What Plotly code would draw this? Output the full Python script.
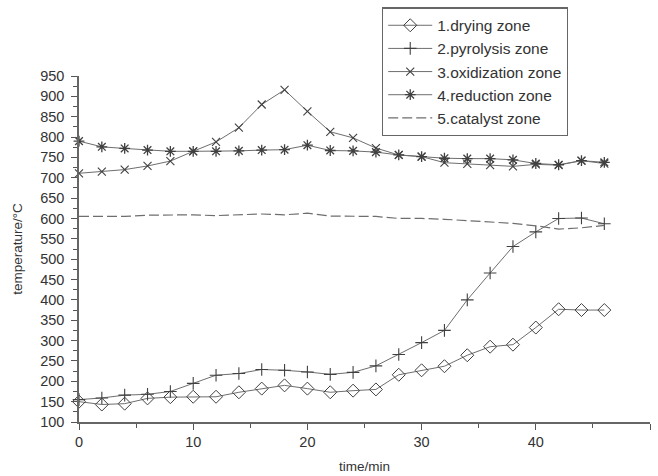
import plotly.graph_objects as go

# Sampling times (min)
time_min = [0, 2, 4, 6, 8, 10, 12, 14, 16, 18, 20, 22,
            24, 26, 28, 30, 32, 34, 36, 38, 40, 42, 44, 46]

# Zone temperatures (°C)
drying = [150, 143, 145, 158, 161, 162, 162, 173, 182, 190, 182, 173,
          177, 180, 216, 227, 237, 264, 285, 290, 332, 377, 375, 375]
pyrolysis = [155, 159, 166, 168, 175, 195, 215, 219, 229, 227, 223, 217,
             222, 238, 266, 295, 325, 400, 466, 531, 567, 600, 601, 587]
oxidization = [711, 715, 720, 729, 741, 765, 788, 823, 880, 916, 863, 813,
               798, 773, 756, 752, 737, 734, 731, 728, 733, 731, 742, 735]
reduction = [790, 776, 772, 768, 765, 765, 765, 766, 768, 769, 780, 767,
             766, 763, 756, 752, 748, 747, 747, 744, 735, 732, 742, 738]
catalyst = [605, 605, 605, 608, 609, 609, 607, 609, 611, 609, 613, 606,
            605, 605, 600, 600, 598, 595, 591, 588, 582, 574, 577, 583]

series_names = ["1.drying zone", "2.pyrolysis zone", "3.oxidization zone",
                "4.reduction zone", "5.catalyst zone"]

LINE = "#6e6e6e"
MARK = "#404040"
FONT = "Liberation Sans, Arial, sans-serif"

fig = go.Figure()

fig.add_trace(go.Scatter(
    x=time_min, y=drying, name=series_names[0], mode="lines+markers",
    line=dict(color=LINE, width=1),
    marker=dict(symbol="diamond-open", size=10, color=MARK,
                line=dict(color=MARK, width=1)),
    cliponaxis=False))
fig.add_trace(go.Scatter(
    x=time_min, y=pyrolysis, name=series_names[1], mode="lines+markers",
    line=dict(color=LINE, width=1),
    marker=dict(symbol="cross-thin-open", size=9, color=MARK,
                line=dict(color=MARK, width=1.1)),
    cliponaxis=False))
fig.add_trace(go.Scatter(
    x=time_min, y=oxidization, name=series_names[2], mode="lines+markers",
    line=dict(color=LINE, width=1),
    marker=dict(symbol="x-thin-open", size=8, color=MARK,
                line=dict(color=MARK, width=1.1)),
    cliponaxis=False))
fig.add_trace(go.Scatter(
    x=time_min, y=reduction, name=series_names[3], mode="lines+markers",
    line=dict(color=LINE, width=1),
    marker=dict(symbol="asterisk-open", size=9, color=MARK,
                line=dict(color=MARK, width=1.3)),
    cliponaxis=False))
fig.add_trace(go.Scatter(
    x=time_min, y=catalyst, name=series_names[4], mode="lines",
    line=dict(color=LINE, width=1.2, dash="10px,4px"),
    cliponaxis=False))

axis_common = dict(
    showline=True, linecolor="#666666", linewidth=1.5,
    ticks="outside", ticklen=6, tickwidth=1.2, tickcolor="#555555",
    showgrid=False, zeroline=False, mirror=False, automargin=False,
    tickfont=dict(family=FONT, size=14.5, color="#333333"),
)

fig.update_xaxes(
    range=[0, 50], dtick=10, tick0=0,
    minor=dict(dtick=5, ticks="outside", ticklen=4, tickcolor="#555555"),
    title=dict(text="time/min", font=dict(family=FONT, size=13.5, color="#333333"),
               standoff=12),
    **axis_common)
fig.update_yaxes(
    range=[100, 950], dtick=50, tick0=100,
    minor=dict(dtick=25, ticks="outside", ticklen=4, tickcolor="#555555"),
    ticklabelstandoff=4,
    title=dict(text="temperature/°C", font=dict(family=FONT, size=13.5, color="#333333"),
               standoff=14),
    **axis_common)

fig.update_layout(
    width=658, height=476,
    margin=dict(l=79, r=8, t=74, b=54),
    paper_bgcolor="white", plot_bgcolor="white",
    font=dict(family=FONT, color="#333333"),
    legend=dict(
        x=0.5307, y=1.198, xanchor="left", yanchor="top",
        bgcolor="white", bordercolor="#666666", borderwidth=1.2,
        font=dict(family=FONT, size=15.5, color="#333333"),
        itemwidth=44, tracegroupgap=0,
    ),
)

fig.write_html("out.html")
